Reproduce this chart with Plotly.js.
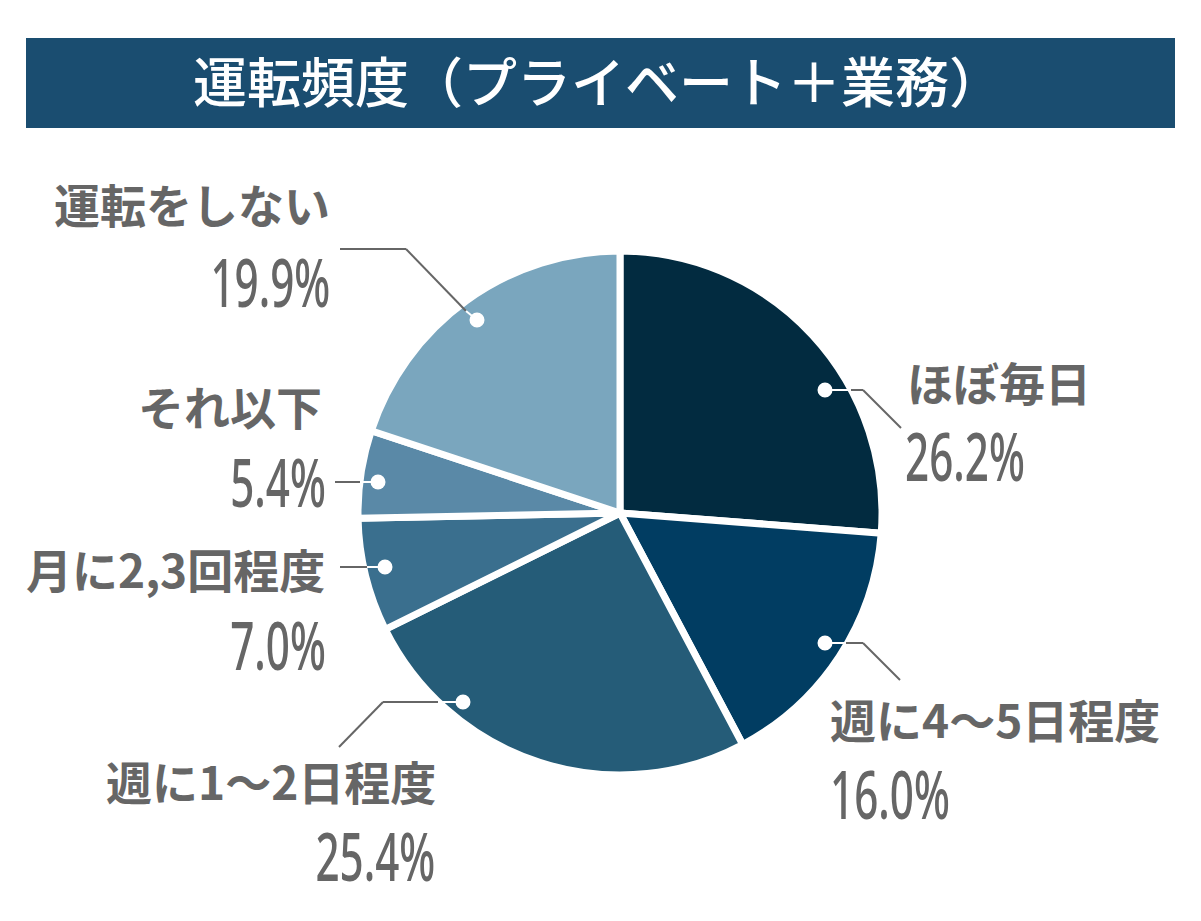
<!DOCTYPE html>
<html>
<head>
<meta charset="utf-8">
<script src="https://cdn.plot.ly/plotly-3.0.1.min.js"></script>
<style>html,body{margin:0;padding:0;background:#fff;}#chart{width:1201px;height:921px;}</style>
</head>
<body>
<div id="chart"></div>
<script>
// ---- data ----
const categories = ["ほぼ毎日", "週に4〜5日程度", "週に1〜2日程度", "月に2,3回程度", "それ以下", "運転をしない"];
const values = [26.2, 16.0, 25.4, 7.0, 5.4, 19.9];
const valueLabels = ["26.2%", "16.0%", "25.4%", "7.0%", "5.4%", "19.9%"];
const sliceColors = ["#022b40", "#013d62", "#255c78", "#3a6f8e", "#5a89a7", "#7aa6be"];
const chartTitle = "運転頻度（プライベート＋業務）";

// ---- layout helpers (pixel -> paper) ----
const W = 1201, H = 921;
const px = x => x / W;
const py = y => 1 - y / H;
const cx = 620, cy = 513, R = 262;

const GRAY = "#666666";
const jpFont = {family: "Noto Sans CJK JP, sans-serif", size: 46, color: GRAY, weight: 700};
const numFont = {family: "Noto Sans, sans-serif", size: 67, color: GRAY, weight: 500};
const NUM_SQUEEZE = 0.63;

// label placement (pixel positions) per category index
const labelPos = [
  {name: [905, 381, "left"], val: [903, 455, "left"]},
  {name: [828, 718, "left"], val: [828, 793, "left"]},
  {name: [438, 780, "right"], val: [437, 855, "right"]},
  {name: [327, 568, "right"], val: [328, 644, "right"]},
  {name: [324, 405, "right"], val: [328, 481, "right"]},
  {name: [332, 203, "right"], val: [332, 281, "right"]}
];
// leader lines: gray polyline outside, white segment inside, dot
const leaders = [
  {gray: [[851, 390], [863, 390], [901, 428]], white: [[825, 390], [851, 390]], dot: [825, 390]},
  {gray: [[846, 643], [863, 643], [900, 680]], white: [[825, 643], [846, 643]], dot: [825, 643]},
  {gray: [[438, 702], [383, 702], [339, 747]], white: [[463, 702], [438, 702]], dot: [463, 702]},
  {gray: [[367, 567], [340, 567]], white: [[385, 567], [367, 567]], dot: [385, 567]},
  {gray: [[360, 482], [335, 482]], white: [[378, 482], [360, 482]], dot: [378, 482]},
  {gray: [[340, 249], [406, 249], [466, 311]], white: [[466, 311], [477, 320]], dot: [477, 320]}
];

const shapes = [{
  type: "rect", xref: "paper", yref: "paper", layer: "below",
  x0: px(26), x1: px(1175), y0: py(128), y1: py(38),
  fillcolor: "#1a4d70", line: {width: 0}
}];
function seg(pts, color, width) {
  for (let i = 0; i < pts.length - 1; i++) {
    shapes.push({type: "line", xref: "paper", yref: "paper",
      x0: px(pts[i][0]), y0: py(pts[i][1]), x1: px(pts[i+1][0]), y1: py(pts[i+1][1]),
      line: {color: color, width: width}});
  }
}
leaders.forEach(l => {
  seg(l.gray, GRAY, 2);
  seg(l.white, "#ffffff", 2);
  const r = 7.5;
  shapes.push({type: "circle", xref: "paper", yref: "paper",
    x0: px(l.dot[0] - r), x1: px(l.dot[0] + r), y0: py(l.dot[1] + r), y1: py(l.dot[1] - r),
    fillcolor: "#ffffff", line: {width: 0}});
});

const annotations = [];
categories.forEach((c, i) => {
  const p = labelPos[i];
  annotations.push({text: c, xref: "paper", yref: "paper", x: px(p.name[0]), y: py(p.name[1]),
    xanchor: p.name[2], yanchor: "middle", showarrow: false, font: jpFont});
  annotations.push({text: valueLabels[i], xref: "paper", yref: "paper", x: px(p.val[0]), y: py(p.val[1]),
    xanchor: p.val[2], yanchor: "middle", showarrow: false, font: numFont});
});

const trace = {
  type: "pie",
  labels: categories,
  values: values,
  sort: false,
  direction: "clockwise",
  rotation: 0,
  textinfo: "none",
  hoverinfo: "skip",
  marker: {colors: sliceColors, line: {color: "#ffffff", width: 7}},
  domain: {x: [px(cx - R), px(cx + R)], y: [py(cy + R), py(cy - R)]},
  showlegend: false
};

const layout = {
  width: W, height: H,
  margin: {l: 0, r: 0, t: 0, b: 0},
  paper_bgcolor: "#ffffff",
  showlegend: false,
  title: {text: chartTitle, x: 0.498, xref: "paper", xanchor: "center",
    y: 1 - 84 / H, yref: "container", yanchor: "middle",
    font: {family: "Noto Sans CJK JP, sans-serif", size: 54, color: "#ffffff", weight: 500}},
  shapes: shapes,
  annotations: annotations
};

Plotly.newPlot("chart", [trace], layout, {displayModeBar: false, staticPlot: true}).then(gd => {
  // condense the percentage labels horizontally (condensed numeral style)
  annotations.forEach((a, i) => {
    if (i % 2 === 0) return;
    const g = gd.querySelector('.annotation[data-index="' + i + '"]');
    if (!g) return;
    const t = g.querySelector('text.annotation-text');
    if (!t) return;
    const bb = t.getBBox();
    const ax = a.xanchor === "left" ? bb.x : bb.x + bb.width;
    const prev = t.getAttribute("transform") || "";
    t.setAttribute("transform", prev + " translate(" + ax + ",0) scale(" + NUM_SQUEEZE + ",1) translate(" + (-ax) + ",0)");
  });
});
</script>
</body>
</html>
